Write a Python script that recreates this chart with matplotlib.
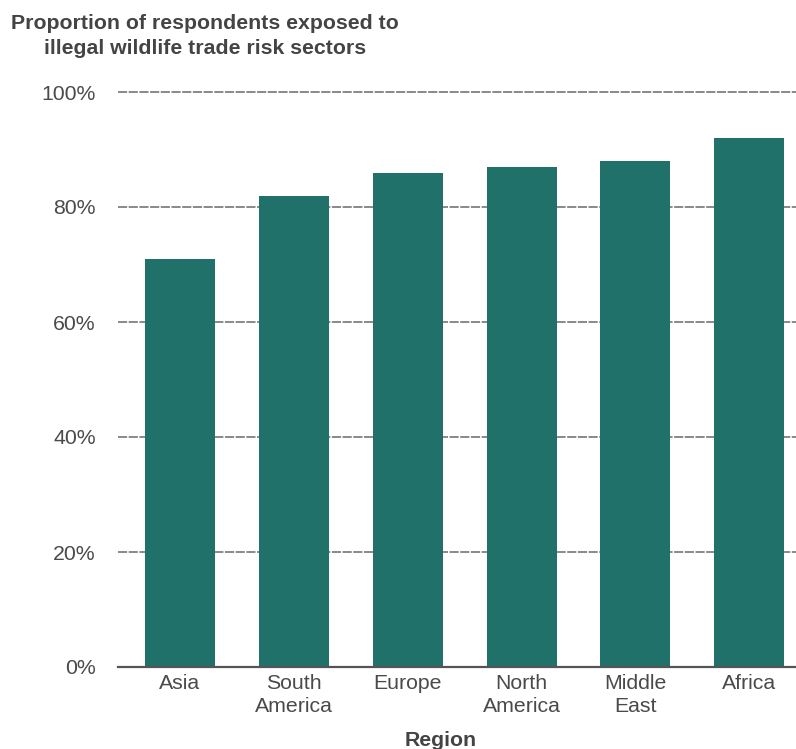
import matplotlib.pyplot as plt
from matplotlib.ticker import FuncFormatter

plt.rcParams['font.family'] = ['Liberation Sans', 'DejaVu Sans']

# share of respondents exposed, by region
regions = ['Asia', 'South\nAmerica', 'Europe', 'North\nAmerica', 'Middle\nEast', 'Africa']
exposed = [0.71, 0.82, 0.86, 0.87, 0.88, 0.92]
y_ticks = [0, 0.2, 0.4, 0.6, 0.8, 1.0]

fig = plt.figure(figsize=(7.96, 7.49), dpi=100)
ax = fig.add_axes([118 / 796, 1 - 667 / 749, 1 - 118 / 796, (667 - 92) / 749])

xs = range(len(regions))
ax.bar(xs, exposed, width=0.614, color='#20716a', zorder=2)

ax.set_ylim(0, 1.0)
ax.set_xlim(-0.544, 5.41)
ax.set_yticks(y_ticks)
ax.yaxis.set_major_formatter(FuncFormatter(lambda v, p: f'{v * 100:.0f}%'))
for y in y_ticks[1:]:
    ax.axhline(y, color='#6a6a6a', lw=1.1, ls=(0, (6, 1)), zorder=1, clip_on=False)

ax.set_xticks(list(xs))
ax.set_xticklabels(regions, fontsize=15.3, color='#4a4a4a', linespacing=1.25)
ax.tick_params(axis='x', length=0, pad=5)
ax.tick_params(axis='y', length=0, pad=16, labelsize=15.3, labelcolor='#4a4a4a')

for s in ['top', 'right', 'left']:
    ax.spines[s].set_visible(False)
ax.spines['bottom'].set_color('#555555')
ax.spines['bottom'].set_linewidth(1.6)

ax.set_xlabel('Region', fontsize=15.3, fontweight='bold', color='#444444', va='center')
ax.xaxis.set_label_coords((441 - 118) / 678, -(740 - 667) / 575)
fig.text(205 / 796, 1 - 36 / 749, 'Proportion of respondents exposed to\nillegal wildlife trade risk sectors',
         ha='center', va='center', fontsize=15.3, fontweight='bold', color='#444444', linespacing=1.35)

fig.savefig('out.png', dpi=100)
